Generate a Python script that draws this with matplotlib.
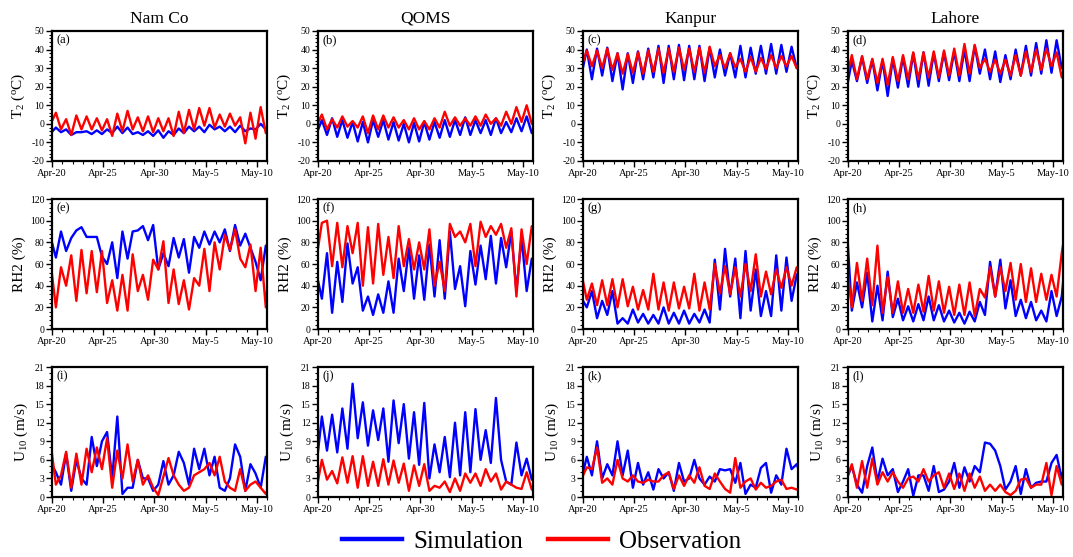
import pandas as pd
import matplotlib
matplotlib.use("Agg")
import matplotlib.pyplot as plt
import matplotlib.dates as mdates
from matplotlib.ticker import MultipleLocator, FuncFormatter
from matplotlib.lines import Line2D

plt.rcParams['font.family'] = ['Liberation Serif', 'DejaVu Serif']
plt.rcParams['mathtext.fontset'] = 'custom'
plt.rcParams['mathtext.rm'] = 'Liberation Serif'
plt.rcParams['mathtext.it'] = 'Liberation Serif:italic'
plt.rcParams['axes.unicode_minus'] = False

# 12-hourly values (09 and 21 UTC)
times = pd.date_range('2019-04-19 21:00', periods=44, freq='12h')

sites = ['Nam Co', 'QOMS', 'Kanpur', 'Lahore']

# ---- 2 m temperature (degC)
namco_t2_sim = [-5, -2, -4.5, -3, -6, -4.5, -4.5, -4, -5.5, -3.5, -5.5, -3, -5, -1.5, -5, -2, -5.5, -4.5, -6, -4, -6.5,
                -3.5, -7.5, -4, -6, -2.5, -5, -1.5, -4, -1.5, -4.5, -0.5, -3, -1.5, -4, -1.5, -4.5, -1, -4, -2.5, -3,
                0, -3, -2]
namco_t2_obs = [0, 6, -3, 2.5, -6, 4.5, -3, 4, -3, 3, -3.5, 2.5, -6.5, 5.5, -4, 7, -3, 3.5, -4, 4, -4.5, 3, -4, 3,
                -6.5, 6.5, -5, 7.5, -3, 8.5, -1, 8.5, -2, 5, -1.5, 5.5, -1, 3.5, -10.5, 6, -8, 9, -5, 0]
qoms_t2_sim = [-5, 2, -6, 3, -7, 2, -7.5, 1, -9.5, 1, -10, 2, -7, 2, -8.5, 1, -9, 0, -10, 0.5, -9.5, 1, -8.5, 1,
               -7.5, 2, -7, 2, -6, 3.5, -6, 2, -5, 2, -6, 3, -5, 1, -4.5, 3, -4, 4, -5, 0]
qoms_t2_obs = [-1, 5, -3, 2.5, -2, 4, -1.5, 1.5, -2, 4, -5, 4.5, -3, 4.5, -2, 3.5, -2, 2, -3, 3, -3, 1.5, -3, 3,
               -2, 6.5, -1, 3.5, -1, 3, -1, 4, -1, 5, 0, 3, -1, 6.5, 0, 9, 1, 10, 0, 2]
kanpur_t2_sim = [27, 40, 24, 40.5, 26, 41, 23, 38, 18.5, 38, 22, 39, 24, 40.5, 25, 42, 22, 42, 24, 42.5, 23.5, 42,
                 24, 42, 23, 41, 25, 40, 26, 38, 25, 42, 25, 41, 27, 42, 27, 43, 27, 42.5, 28, 41.5, 30, 35]
kanpur_t2_obs = [31, 39.5, 31, 39.5, 30, 40.5, 29, 38, 27, 37.5, 27.5, 38.5, 27, 39.5, 28, 40.5, 27.5, 40.5, 28, 41,
                 29, 40.5, 28, 41, 27.5, 41.5, 31, 37, 30, 38, 30.5, 35, 28, 36, 28, 35.5, 29.5, 37, 30, 36.5, 31,
                 36.5, 30, 33]
lahore_t2_sim = [19, 34, 23, 36, 22, 34.5, 18, 34, 15, 35, 19.5, 36, 20, 38, 20, 38.5, 20.5, 38, 23, 38.5, 23.5, 39,
                 23, 40, 23, 42, 27, 40, 24, 39, 22.5, 37, 24, 40, 26, 42, 26, 43.5, 27, 45, 27.5, 45, 30, 30]
lahore_t2_obs = [25, 37, 24, 36.5, 24, 35, 22, 35, 21, 36, 23, 37, 24, 38.5, 24, 38.5, 25, 39, 25, 39.5, 26, 40.5,
                 26, 43, 27, 42.5, 30, 35, 28, 34.5, 27, 34.5, 26, 37, 26, 39, 28, 40, 29, 40.5, 31, 38.5, 25, 28]

# ---- 2 m relative humidity (%)
namco_rh_sim = [84, 66, 90, 72, 84, 91, 94, 85, 85, 85, 67, 60, 80, 47, 90, 65, 90, 91, 95, 82, 96, 55, 70, 58,
                84, 66, 83, 52, 85, 75, 90, 78, 90, 80, 92, 72, 96, 77, 88, 75, 62, 45, 77, 75]
namco_rh_obs = [60, 20, 57, 40, 68, 26, 73, 33, 72, 34, 72, 24, 45, 17, 50, 17, 69, 35, 50, 27, 64, 55, 81, 24,
                55, 23, 45, 18, 47, 40, 74, 35, 80, 55, 87, 73, 92, 65, 57, 78, 35, 75, 20, 80]
qoms_rh_sim = [50, 28, 70, 15, 62, 25, 79, 42, 57, 17, 30, 13, 32, 15, 44, 15, 65, 35, 75, 28, 68, 27, 78, 30,
               82, 28, 90, 37, 58, 21, 72, 41, 77, 46, 86, 42, 84, 57, 90, 35, 85, 35, 65, 65]
qoms_rh_obs = [67, 98, 100, 58, 98, 57, 95, 70, 98, 40, 94, 42, 97, 50, 85, 47, 95, 58, 83, 55, 80, 55, 92, 40,
               62, 35, 97, 85, 90, 80, 97, 58, 99, 85, 95, 87, 97, 75, 93, 30, 92, 60, 95, 87]
kanpur_rh_sim = [28, 20, 35, 10, 26, 13, 35, 5, 10, 5, 18, 6, 14, 5, 13, 5, 20, 5, 15, 5, 17, 5, 14, 6,
                 18, 6, 64, 18, 74, 30, 65, 10, 72, 17, 55, 12, 35, 12, 68, 17, 66, 26, 50, 55]
kanpur_rh_obs = [50, 27, 42, 22, 45, 22, 46, 20, 46, 21, 39, 18, 36, 18, 51, 18, 43, 17, 43, 19, 39, 19, 51, 17,
                 43, 18, 60, 33, 58, 32, 57, 30, 60, 35, 69, 30, 53, 32, 55, 38, 57, 40, 57, 55]
lahore_rh_sim = [95, 17, 43, 20, 52, 7, 40, 8, 53, 11, 28, 8, 21, 7, 23, 8, 30, 8, 22, 7, 17, 6, 15, 5,
                 16, 7, 25, 13, 62, 30, 64, 19, 45, 12, 27, 10, 25, 8, 17, 7, 35, 12, 30, 80]
lahore_rh_obs = [60, 20, 61, 26, 65, 22, 77, 15, 48, 15, 44, 15, 37, 15, 41, 16, 49, 17, 44, 15, 39, 13, 41, 13,
                 43, 12, 37, 29, 57, 30, 57, 35, 61, 27, 60, 25, 56, 25, 51, 27, 50, 30, 70, 100]

# ---- 10 m wind speed (m/s)
namco_u10_sim = [5.5, 4, 2, 7, 1, 6, 3, 2, 9.7, 5, 9, 10.5, 3, 13, 0.5, 1.5, 1.5, 6, 3, 3, 1, 2, 5.8, 2,
                 3.5, 7.3, 5.5, 2, 7.8, 4.5, 7.8, 3.5, 6.5, 1.5, 1, 3, 8.5, 6.5, 1, 5.3, 3.8, 1.5, 6.5, 4]
namco_u10_obs = [8.5, 2, 3.5, 7.3, 1.5, 7, 2, 7.8, 4, 8, 4.5, 9.5, 1.5, 7.5, 3, 8.5, 2.5, 6, 2, 3.5, 1.5, 0.3,
                 3.3, 6.3, 3.5, 2, 1, 1.5, 3.5, 4, 4.5, 5.5, 3.5, 6.5, 2.5, 1.5, 1, 4.5, 1, 2, 2.5, 1.5, 0.5, 2.5]
qoms_u10_sim = [5.5, 13, 7.5, 13.3, 7.2, 14.3, 7.8, 18.3, 9.5, 15.3, 8.3, 14, 9.2, 14.3, 5.7, 15.6, 8.7, 15, 6.2,
                13.7, 5.2, 15.2, 3, 8.5, 4, 9.7, 3.2, 12, 3.5, 13.7, 4, 14.2, 6, 10.8, 5.5, 16, 6, 2.5, 2, 8.8,
                3.5, 6.2, 2.8, 4]
qoms_u10_obs = [1.5, 6, 2.8, 4.2, 2.2, 6.4, 2.3, 6.6, 1.5, 6.6, 1.8, 5.7, 1.8, 6.1, 2, 5.9, 2.3, 5.4, 1, 5.1,
                1.8, 5.3, 1, 1.8, 1.5, 2.5, 0.8, 3, 1, 3.8, 2.3, 3.8, 1.8, 4.5, 2.5, 3.8, 1.2, 2.5, 2, 1.5, 1.3,
                4, 1.2, 1]
kanpur_u10_sim = [3, 6.5, 3.5, 9, 3, 5.3, 3.5, 9, 3.5, 7.5, 1.5, 5.5, 2, 4, 1.2, 4.5, 3, 4, 1, 5.5, 2.5, 3, 6, 3,
                  2, 3.3, 2.5, 4.5, 4.3, 4.5, 2.3, 5.5, 0.5, 2, 1.5, 4.7, 5.5, 0.7, 3.5, 2, 7.8, 4.5, 5.3, 3]
kanpur_u10_obs = [3, 4.8, 4.5, 8, 2.3, 3, 2, 6, 3, 2.5, 3.5, 2.5, 2.3, 2.8, 2.5, 2.5, 3.5, 4, 1.3, 3.5, 1.8, 3.5,
                  2.3, 4.8, 1.8, 1.3, 3.8, 2.5, 1.3, 0.7, 6.3, 1.5, 2.5, 3, 1.2, 2.3, 1.5, 1.8, 2.5, 2.8, 1.3, 1.5,
                  1.2, 1.8]
lahore_u10_sim = [3, 5, 2, 0.7, 5, 8, 2.5, 6.2, 3.5, 4.5, 0.8, 2.5, 4.5, 0.2, 3.5, 3.5, 1, 5, 0.8, 1.2, 2.5, 5.5,
                  1.5, 4.8, 2.5, 5, 4, 8.8, 8.6, 7.5, 5, 1.2, 2.5, 5, 0.5, 4.5, 1.5, 2.3, 2.5, 2.5, 5.5, 6.8, 3, 7]
lahore_u10_obs = [3, 5.3, 1.5, 5.8, 1.5, 6.2, 2, 4, 2.5, 4, 2.5, 1.5, 3, 3.3, 2.5, 4.5, 2.5, 3.5, 4, 1.5, 3.8,
                  1.3, 3.8, 1, 3.8, 1.5, 3.3, 1, 2, 1, 2, 0.8, 0.3, 1, 2.8, 3, 1.5, 2, 2, 5.5, 0.3, 5, 2, 2.5]

rows = [
    (r'T$_2$ ($^{\rm o}$C)', (-20, 50), 10, 2,
     [namco_t2_sim, qoms_t2_sim, kanpur_t2_sim, lahore_t2_sim],
     [namco_t2_obs, qoms_t2_obs, kanpur_t2_obs, lahore_t2_obs]),
    ('RH2 (%)', (0, 120), 20, 4,
     [namco_rh_sim, qoms_rh_sim, kanpur_rh_sim, lahore_rh_sim],
     [namco_rh_obs, qoms_rh_obs, kanpur_rh_obs, lahore_rh_obs]),
    (r'U$_{10}$ (m/s)', (0, 21), 3, 1,
     [namco_u10_sim, qoms_u10_sim, kanpur_u10_sim, lahore_u10_sim],
     [namco_u10_obs, qoms_u10_obs, kanpur_u10_obs, lahore_u10_obs]),
]

fig = plt.figure(figsize=(10.73, 5.57), dpi=100)
lefts = [0.0485, 0.2964, 0.5433, 0.7903]
bottoms = [0.7110, 0.4093, 0.1077]
w, h = 0.2004, 0.2334
date_fmt = FuncFormatter(lambda x, pos: '{:%b}-{}'.format(mdates.num2date(x), mdates.num2date(x).day))

tag = iter('abcdefghijkl')
for r, (ylabel, ylim, major, minor, sims, obss) in enumerate(rows):
    for c, site in enumerate(sites):
        ax = fig.add_axes([lefts[c], bottoms[r], w, h])
        ax.plot(times, sims[c], color='#0000ff', lw=1.7)
        ax.plot(times, obss[c], color='#ff0000', lw=1.7)
        ax.set_xlim(pd.Timestamp('2019-04-20'), pd.Timestamp('2019-05-11'))
        ax.set_ylim(*ylim)
        ax.yaxis.set_major_locator(MultipleLocator(major))
        ax.yaxis.set_minor_locator(MultipleLocator(minor))
        ax.xaxis.set_major_locator(mdates.DayLocator(bymonthday=[5, 10, 20, 25, 30]))
        ax.xaxis.set_minor_locator(mdates.DayLocator())
        ax.xaxis.set_major_formatter(date_fmt)
        ax.tick_params(which='major', length=4, width=1, labelsize=7.5, pad=1.5)
        ax.tick_params(axis='y', which='major', labelsize=7)
        ax.tick_params(which='minor', length=2, width=0.8)
        for s in ax.spines.values():
            s.set_linewidth(1.6)
        ax.set_ylabel(ylabel, fontsize=11, labelpad=3)
        ax.text(0.02, 0.975, '(%s)' % next(tag), transform=ax.transAxes, va='top', ha='left', fontsize=9)
        if r == 0:
            ax.set_title(site, fontsize=12.5, pad=6)

handles = [Line2D([], [], color='#0000ff', lw=3.2), Line2D([], [], color='#ff0000', lw=3.2)]
fig.legend(handles, ['Simulation', 'Observation'], loc='center', bbox_to_anchor=(0.505, 0.027), ncol=2,
           frameon=False, fontsize=18, handlelength=2.4, handletextpad=0.45, columnspacing=1.0)

fig.savefig('out.png', dpi=100)
